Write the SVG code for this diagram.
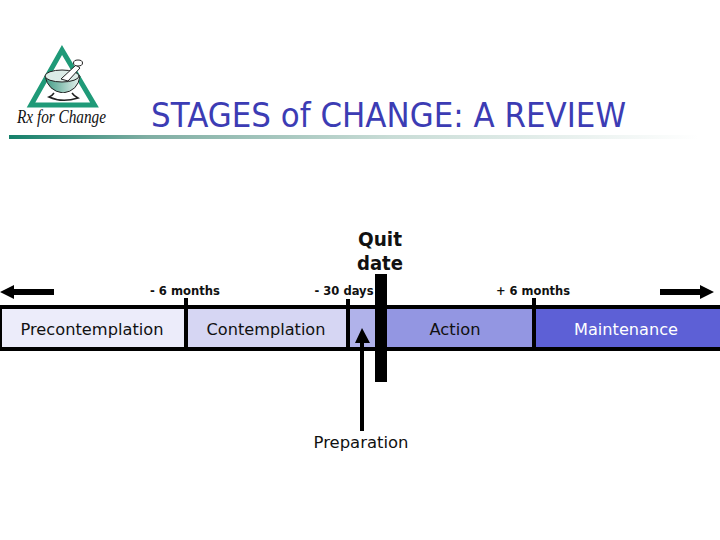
<svg xmlns="http://www.w3.org/2000/svg" width="720" height="540" viewBox="0 0 720 540">
<defs>
<linearGradient id="rule" x1="0" x2="1" y1="0" y2="0"><stop offset="0" stop-color="#14806a"/><stop offset="0.2" stop-color="#7faea3"/><stop offset="0.55" stop-color="#c8dcd6"/><stop offset="1" stop-color="#ffffff"/></linearGradient>
<linearGradient id="bowl" x1="0" x2="1" y1="0" y2="0"><stop offset="0" stop-color="#3f9a84"/><stop offset="0.6" stop-color="#a5d0c4"/><stop offset="1" stop-color="#e6f1ee"/></linearGradient>
</defs>
<style>
text{font-family:"DejaVu Sans","Liberation Sans",sans-serif;fill:#111}
.lbl{font-size:15.5px;text-anchor:middle}
.tick{font-size:12.5px;font-weight:bold;text-anchor:middle}
.blk{fill:#000}
.ink{stroke:#222;stroke-width:1}
</style>
<rect width="720" height="540" fill="#fff"/>
<g id="logo">
<path d="M62 50 L94.500 105 L31 105 Z" fill="none" stroke="#1f9a78" stroke-width="5" stroke-linejoin="miter"/>
<path d="M45 76 Q62 68 80 76 Q78 91 63 93 Q48 91 45 76 Z" fill="url(#bowl)" class="ink"/>
<ellipse cx="62" cy="76" rx="17" ry="6" fill="#dcece7" class="ink"/>
<path d="M61 79 L76 65 L80 68 L68 81 Z" fill="#fff" class="ink"/>
<ellipse cx="78" cy="63" rx="4.500" ry="3" fill="#fff" class="ink"/>
<path d="M54 93 Q52 96 49 97 Q62 103 78 98 Q74 96 72 93" fill="#fff" stroke="#222" stroke-width="1.500"/>
<text x="17" y="123" style="font-family:'Liberation Serif',serif;font-style:italic;font-size:18px" textLength="89" lengthAdjust="spacingAndGlyphs">Rx for Change</text>
</g>
<g id="title">
<text x="151" y="127" style="font-family:'DejaVu Sans',sans-serif;font-size:34px;fill:#3c3cb4" textLength="475" lengthAdjust="spacingAndGlyphs">STAGES of CHANGE: A REVIEW</text>
<rect x="9" y="135" width="690" height="4" fill="url(#rule)"/>
</g>
<g id="stage-precontemplation"><rect x="0" y="307" width="186" height="42" fill="#ececfa"/><text class="lbl" x="92" y="335" textLength="143" lengthAdjust="spacingAndGlyphs">Precontemplation</text></g>
<g id="stage-contemplation"><rect x="186" y="307" width="162" height="42" fill="#d6d6f3"/><text class="lbl" x="266" y="335" textLength="119" lengthAdjust="spacingAndGlyphs">Contemplation</text></g>
<g id="stage-preparation"><rect x="348" y="307" width="33" height="42" fill="#b0b2ea"/></g>
<g id="stage-action"><rect x="381" y="307" width="153" height="42" fill="#9396e2"/><text class="lbl" x="455" y="335" textLength="51" lengthAdjust="spacingAndGlyphs">Action</text></g>
<g id="stage-maintenance"><rect x="534" y="307" width="186" height="42" fill="#5d60d6"/><text class="lbl" x="626" y="335" textLength="104" lengthAdjust="spacingAndGlyphs" style="fill:#fff">Maintenance</text></g>
<g id="connectors">
<rect class="blk" x="0" y="305" width="720" height="4"/>
<rect class="blk" x="0" y="347" width="720" height="4"/>
<rect class="blk" x="0" y="305" width="2" height="46"/>
<rect class="blk" x="184" y="298" width="4" height="53"/>
<rect class="blk" x="346" y="299" width="4" height="52"/>
<rect class="blk" x="532" y="298" width="4" height="53"/>
<rect class="blk" x="375" y="274" width="12" height="108"/>
<path class="blk" d="M360 431 V343 H355 L362 328 L370 343 H364 V431 Z"/>
<path class="blk" d="M54 289 H14 V285 L0 292 L14 299 V295 H54 Z"/>
<path class="blk" d="M660 289 H700 V285 L714 292 L700 299 V295 H660 Z"/>
</g>
<g id="labels">
<text class="tick" x="185" y="295" textLength="70" lengthAdjust="spacingAndGlyphs">- 6 months</text>
<text class="tick" x="344" y="295" textLength="59" lengthAdjust="spacingAndGlyphs">- 30 days</text>
<text class="tick" x="533" y="295" textLength="74" lengthAdjust="spacingAndGlyphs">+ 6 months</text>
<text x="380" y="246" style="font-size:20px;font-weight:bold;text-anchor:middle" textLength="44" lengthAdjust="spacingAndGlyphs">Quit</text>
<text x="380" y="270" style="font-size:20px;font-weight:bold;text-anchor:middle" textLength="46" lengthAdjust="spacingAndGlyphs">date</text>
<text class="lbl" x="361" y="448" textLength="95" lengthAdjust="spacingAndGlyphs">Preparation</text>
</g>
</svg>
